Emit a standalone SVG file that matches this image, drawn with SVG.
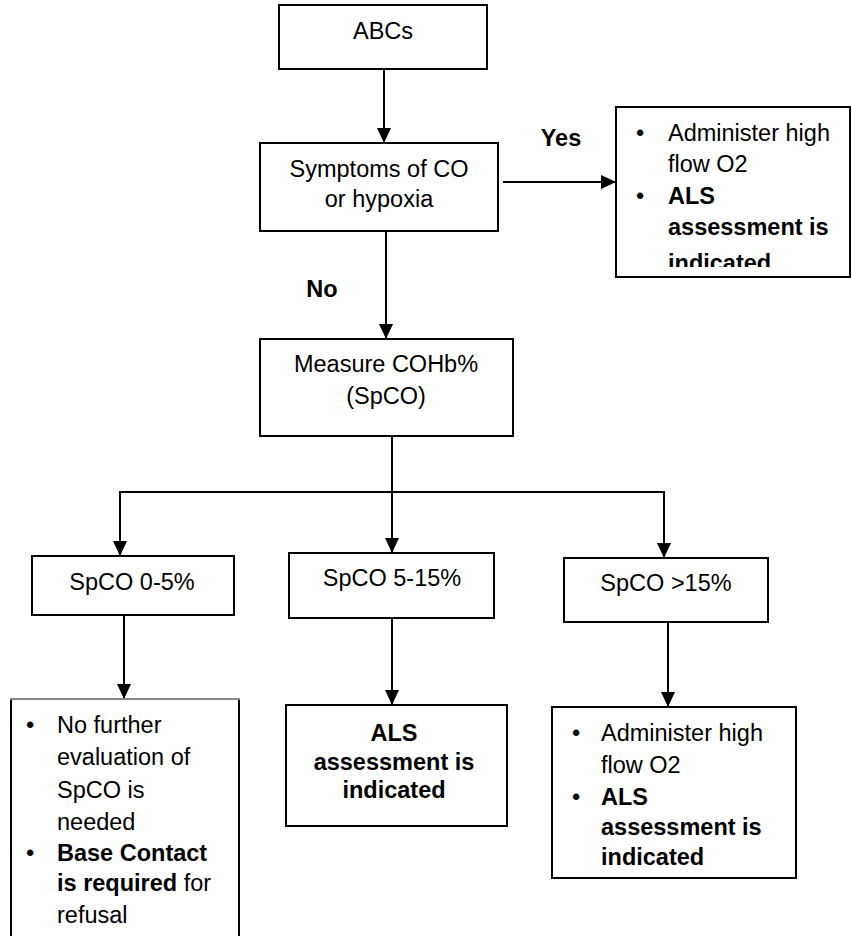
<svg xmlns="http://www.w3.org/2000/svg" width="852" height="936" viewBox="0 0 852 936">
<style>
text{font-family:"Liberation Sans",Arial,sans-serif;font-size:23.5px;fill:#000}
.c{text-anchor:middle}
.b{font-weight:bold}
.box{fill:#fff;stroke:#000;stroke-width:2}
.ln{fill:none;stroke:#000;stroke-width:2}
</style>
<defs>
<marker id="ah" viewBox="0 0 15 14" refX="15" refY="7" markerWidth="15" markerHeight="14" markerUnits="userSpaceOnUse" orient="auto">
<path d="M0,0 L15,7 L0,14 Z" fill="#000"/>
</marker>
<clipPath id="clipTR"><rect x="600" y="100" width="252" height="167"/></clipPath>
</defs>
<rect width="852" height="936" fill="#fff"/>
<g id="connectors">
<line class="ln" x1="384" y1="69" x2="384" y2="143" marker-end="url(#ah)"/>
<line class="ln" x1="503" y1="182" x2="616" y2="182" marker-end="url(#ah)"/>
<line class="ln" x1="386" y1="231" x2="386" y2="339" marker-end="url(#ah)"/>
<line class="ln" x1="392" y1="437" x2="392" y2="553" marker-end="url(#ah)"/>
<line class="ln" x1="119" y1="492" x2="665" y2="492"/>
<line class="ln" x1="120" y1="491" x2="120" y2="556" marker-end="url(#ah)"/>
<line class="ln" x1="664" y1="491" x2="664" y2="558" marker-end="url(#ah)"/>
<line class="ln" x1="124" y1="616" x2="124" y2="699" marker-end="url(#ah)"/>
<line class="ln" x1="392" y1="619" x2="392" y2="705" marker-end="url(#ah)"/>
<line class="ln" x1="668" y1="623" x2="668" y2="707" marker-end="url(#ah)"/>
<text class="b c" x="561" y="146">Yes</text>
<text class="b c" x="322" y="297">No</text>
</g>
<g id="abcs">
<rect class="box" x="279" y="5" width="208" height="64"/>
<text class="c" x="383" y="39">ABCs</text>
</g>
<g id="symptoms">
<rect class="box" x="260" y="143" width="238" height="88"/>
<text class="c" x="379" y="177">Symptoms of CO</text>
<text class="c" x="379" y="207">or hypoxia</text>
</g>
<g id="yes-action">
<rect class="box" x="616" y="107" width="234" height="170"/>
<g clip-path="url(#clipTR)">
<text x="636" y="141">•</text><text x="668" y="141">Administer high</text>
<text x="668" y="172">flow O2</text>
<text x="636" y="204">•</text><text class="b" x="668" y="204">ALS</text>
<text class="b" x="668" y="235">assessment is</text>
<text class="b" x="668" y="271">indicated</text>
</g>
</g>
<g id="measure">
<rect class="box" x="260" y="339" width="253" height="97"/>
<text class="c" x="386" y="372">Measure COHb%</text>
<text class="c" x="386" y="404">(SpCO)</text>
</g>
<g id="spco-low">
<rect class="box" x="32" y="556" width="202" height="59"/>
<text class="c" x="132" y="590">SpCO 0-5%</text>
</g>
<g id="spco-mid">
<rect class="box" x="289" y="553" width="205" height="65"/>
<text class="c" x="392" y="586">SpCO 5-15%</text>
</g>
<g id="spco-high">
<rect class="box" x="564" y="558" width="204" height="64"/>
<text class="c" x="666" y="591">SpCO &gt;15%</text>
</g>
<g id="low-action">
<rect class="box" x="11" y="699" width="228" height="250"/>
<line x1="10" y1="699" x2="240" y2="699" stroke="#888" stroke-width="2"/>
<text x="26" y="733">•</text><text x="57" y="733">No further</text>
<text x="57" y="765">evaluation of</text>
<text x="57" y="798">SpCO is</text>
<text x="57" y="830">needed</text>
<text x="26" y="861">•</text><text class="b" x="57" y="861">Base Contact</text>
<text x="57" y="891"><tspan class="b">is required</tspan> for</text>
<text x="57" y="923">refusal</text>
</g>
<g id="mid-action">
<rect class="box" x="286" y="705" width="221" height="121"/>
<text class="b c" x="394" y="741">ALS</text>
<text class="b c" x="394" y="770">assessment is</text>
<text class="b c" x="394" y="798">indicated</text>
</g>
<g id="high-action">
<rect class="box" x="552" y="707" width="244" height="171"/>
<text x="572" y="741">•</text><text x="601" y="741">Administer high</text>
<text x="601" y="773">flow O2</text>
<text x="572" y="805">•</text><text class="b" x="601" y="805">ALS</text>
<text class="b" x="601" y="835">assessment is</text>
<text class="b" x="601" y="865">indicated</text>
</g>
</svg>
